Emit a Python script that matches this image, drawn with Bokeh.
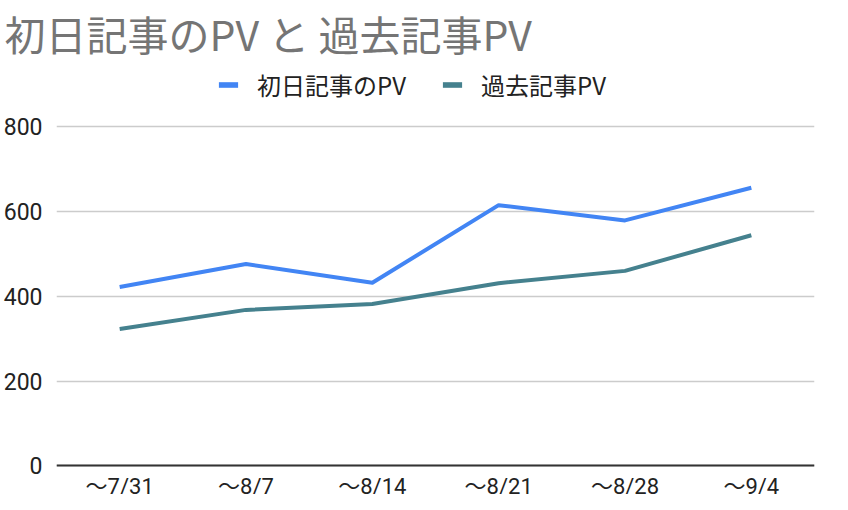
from bokeh.plotting import figure
from bokeh.models import FactorRange, Range1d, FixedTicker, Legend, LegendItem, ColumnDataSource
from bokeh.embed import file_html
from bokeh.resources import INLINE

categories = ["～7/31", "～8/7", "～8/14", "～8/21", "～8/28", "～9/4"]
first_day_pv = [422, 476, 432, 615, 579, 656]
past_pv = [323, 368, 382, 431, 460, 544]
y_ticks = [0, 200, 400, 600, 800]
title_text = "初日記事のPV と 過去記事PV"
series_names = ["初日記事のPV", "過去記事PV"]

BLUE = "#4285F4"
TEAL = "#45818E"

# layout constants (figure pixels, as measured from the rendered frame)
FIG_W, FIG_H = 832, 494
TOP_BORDER = 57
FRAME_H = 430.5
PX_PER_UNIT = 338 / 800               # 0..800 spans 338 px
ZERO_FROM_BOTTOM = 28.5               # px between value 0 and frame bottom
y_start = -ZERO_FROM_BOTTOM / PX_PER_UNIT
y_end = y_start + FRAME_H / PX_PER_UNIT

source = ColumnDataSource(dict(cat=categories, first=first_day_pv, past=past_pv))
nan = float("nan")
# legend proxy (no visible geometry)
proxy = ColumnDataSource(dict(l=[categories[0]], r=[categories[0]], t=[nan], b=[nan]))

p = figure(
    x_range=FactorRange(factors=categories, range_padding=0),
    y_range=Range1d(y_start, y_end),
    width=FIG_W, height=FIG_H,
    output_backend="svg", toolbar_location=None,
    min_border_left=50, min_border_right=18,
    min_border_top=TOP_BORDER, min_border_bottom=0,
)
p.outline_line_color = None
p.background_fill_color = "white"

p.title.text = title_text
p.title.text_font_size = "41px"
p.title.text_color = "#757575"
p.title.text_font = "Noto Sans CJK JP"
p.title.text_font_style = "normal"
p.title.offset = -52
p.title.standoff = 0

p.xgrid.grid_line_color = None
p.ygrid.grid_line_color = "#cccccc"
p.ygrid.grid_line_width = 1.5

p.yaxis.ticker = FixedTicker(ticks=y_ticks)
p.yaxis.axis_line_color = None
p.yaxis.major_tick_line_color = None
p.yaxis.minor_tick_line_color = None
p.yaxis.major_tick_out = 0
p.yaxis.major_tick_in = 0
p.yaxis.minor_tick_out = 0
p.yaxis.major_label_standoff = 14
p.yaxis.major_label_text_font_size = "23px"
p.yaxis.major_label_text_font = "Roboto"
p.yaxis.major_label_text_color = "#222222"

# x axis drawn at value 0 (baseline + category labels)
p.xaxis.fixed_location = 0
p.xaxis.axis_line_color = "#333333"
p.xaxis.axis_line_width = 2
p.xaxis.major_tick_line_color = None
p.xaxis.minor_tick_line_color = None
p.xaxis.major_tick_out = 0
p.xaxis.major_tick_in = 0
p.xaxis.minor_tick_out = 0
p.xaxis.major_label_standoff = 8
p.xaxis.major_label_text_font_size = "22px"
p.xaxis.major_label_text_font = "Roboto, Noto Sans CJK JP"
p.xaxis.major_label_text_color = "#222222"

p.line(x="cat", y="first", source=source, line_color=BLUE, line_width=4, line_join="round")
p.line(x="cat", y="past", source=source, line_color=TEAL, line_width=4, line_join="round")

sw1 = p.quad(left="l", right="r", top="t", bottom="b", source=proxy, fill_color=BLUE, line_color=None)
sw2 = p.quad(left="l", right="r", top="t", bottom="b", source=proxy, fill_color=TEAL, line_color=None)

legend = Legend(
    items=[LegendItem(label=series_names[0], renderers=[sw1]),
           LegendItem(label=series_names[1], renderers=[sw2])],
    orientation="horizontal", location=(160, 392),
    glyph_width=24, glyph_height=7, label_standoff=17, spacing=34,
    padding=0, margin=0, border_line_color=None, background_fill_alpha=0,
    label_text_font_size="24px", label_text_font="Noto Sans CJK JP",
    label_text_color="#222222",
)
p.add_layout(legend)

open("out.html", "w").write(file_html(p, INLINE))
